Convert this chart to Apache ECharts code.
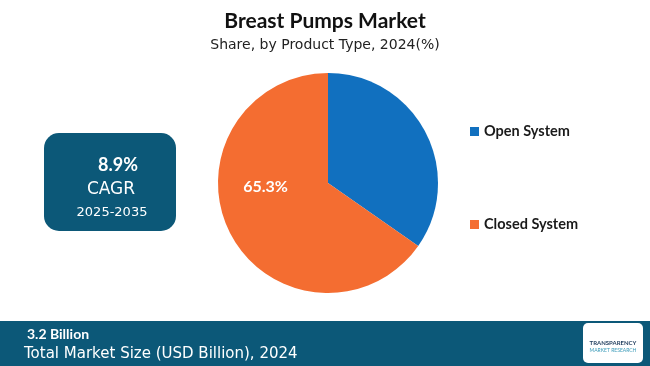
<!DOCTYPE html>
<html><head><meta charset="utf-8">
<script src="https://cdn.jsdelivr.net/npm/echarts@6/dist/echarts.min.js"></script>
<style>html,body{margin:0;padding:0;background:#fff}#c{width:650px;height:366px}</style>
</head><body><div id="c"></div>
<script>
const categories = ["Open System", "Closed System"];
const shares = [34.7, 65.3];
const colors = ["#1170bf", "#f46d31"];
const shownLabels = [false, true];

const chart = echarts.init(document.getElementById('c'));
chart.setOption({
  animation: false,
  backgroundColor: '#ffffff',
  title: {
    text: 'Breast Pumps Market',
    subtext: 'Share, by Product Type, 2024(%)',
    left: 'center', top: 6, itemGap: 6,
    textStyle: {fontFamily: 'Lato', fontWeight: 'bold', fontSize: 21, color: '#111'},
    subtextStyle: {fontFamily: 'DejaVu Sans', fontSize: 14, color: '#222'}
  },
  legend: {
    orient: 'vertical', left: 465, top: 119, itemGap: 78,
    itemWidth: 9, itemHeight: 9, icon: 'rect',
    textStyle: {fontFamily: 'Lato', fontWeight: 'bold', fontSize: 14.5, color: '#1a1a1a'},
    data: categories
  },
  series: [{
    type: 'pie', center: [328, 183], radius: [0, 110], startAngle: 90, clockwise: true,
    label: {show: false},
    labelLine: {show: false},
    labelLayout: {dx: -11, dy: -23},
    data: categories.map((n, i) => ({
      name: n, value: shares[i],
      itemStyle: {color: colors[i]},
      label: {show: shownLabels[i], position: 'inside', formatter: '{d}%', color: '#fff',
              fontFamily: 'Lato', fontWeight: 'bold', fontSize: 16}
    }))
  }],
  graphic: [
    {type: 'rect', shape: {x: 44, y: 133, width: 132, height: 98, r: 15}, style: {fill: '#0c5878'}},
    {type: 'text', style: {text: '8.9%', x: 118, y: 165, align: 'center', verticalAlign: 'middle', fill: '#fff', font: 'bold 18px Lato'}},
    {type: 'text', style: {text: 'CAGR', x: 111, y: 190, align: 'center', verticalAlign: 'middle', fill: '#fff', font: '17px "DejaVu Sans"'}},
    {type: 'text', style: {text: '2025-2035', x: 112, y: 213, align: 'center', verticalAlign: 'middle', fill: '#fff', font: '13px "DejaVu Sans"'}},
    {type: 'rect', shape: {x: 0, y: 321, width: 650, height: 45}, style: {fill: '#0c5878'}},
    {type: 'text', style: {text: '3.2 Billion', x: 27, y: 334, verticalAlign: 'middle', fill: '#fff', font: 'bold 14px Lato'}},
    {type: 'text', style: {text: 'Total Market Size (USD Billion), 2024', x: 24, y: 354, verticalAlign: 'middle', fill: '#fff', font: '15px "DejaVu Sans"'}},
    {type: 'rect', shape: {x: 583, y: 323, width: 60, height: 40, r: 5}, style: {fill: '#fff'}},
    {type: 'text', style: {text: 'TRANSPARENCY', x: 613, y: 343, align: 'center', verticalAlign: 'middle', fill: '#1d3b5c', font: 'bold 6px Lato'}},
    {type: 'text', style: {text: 'MARKET RESEARCH', x: 613, y: 350, align: 'center', verticalAlign: 'middle', fill: '#3a9ab8', font: '5px Lato'}}
  ]
});
</script></body></html>
